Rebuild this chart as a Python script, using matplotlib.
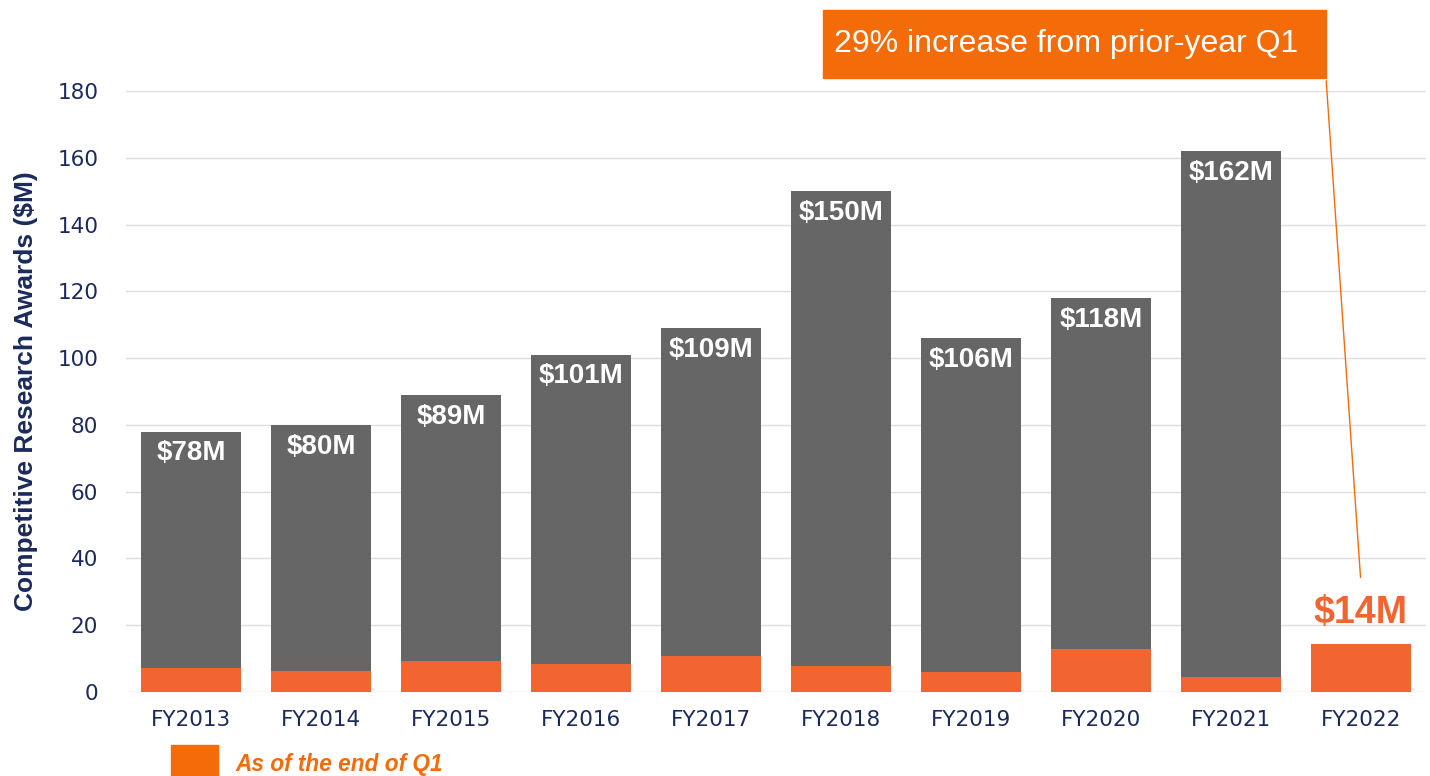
"""Competitive research awards by fiscal year, with Q1 share highlighted."""

import matplotlib
matplotlib.use('Agg')
import matplotlib.pyplot as plt
from matplotlib.patches import Rectangle
import numpy as np

# ---------------------------------------------------------------------------
# Data
# ---------------------------------------------------------------------------
YEARS = ['FY2013', 'FY2014', 'FY2015', 'FY2016', 'FY2017',
         'FY2018', 'FY2019', 'FY2020', 'FY2021', 'FY2022']
TOTALS = [78, 80, 89, 101, 109, 150, 106, 118, 162]      # full-year awards, $M
Q1_VALUES = [7.2, 6.3, 9.3, 8.4, 10.8, 7.8, 6.0, 12.9, 4.5, 14.4]
TOTAL_LABELS = ['$78M', '$80M', '$89M', '$101M', '$109M',
                '$150M', '$106M', '$118M', '$162M']
CURRENT_LABEL = '$14M'
CALLOUT = '29% increase from prior-year Q1'
LEGEND_TEXT = 'As of the end of Q1'

COLOR_GRAY = '#666666'
COLOR_Q1 = '#f26531'
COLOR_BOX = '#f46b0a'
COLOR_NAVY = '#1b2a5c'
ARIAL = ['Liberation Sans', 'DejaVu Sans']

fig = plt.figure(figsize=(14.3, 7.76), dpi=100)
ax = fig.add_axes([0.0881, 0.1082, 0.9089, 0.7745])

x = np.arange(len(YEARS))
width = 0.77
n_full = len(TOTALS)

# gray part sits on top of the Q1 part, reaching the full-year total
ax.bar(x[:n_full], np.array(TOTALS) - np.array(Q1_VALUES[:n_full]), width,
       bottom=Q1_VALUES[:n_full], color=COLOR_GRAY, zorder=2)
ax.bar(x, Q1_VALUES, width, color=COLOR_Q1, zorder=2)

for xi, total, label in zip(x, TOTALS, TOTAL_LABELS):
    ax.text(xi, total - 2.6, label, ha='center', va='top', color='white',
            fontsize=20, fontweight='bold', family=ARIAL, zorder=3)

ax.text(x[-1], Q1_VALUES[-1] + 3.8, CURRENT_LABEL, ha='center', va='bottom',
        color=COLOR_Q1, fontsize=27, fontweight='bold', family=ARIAL)

ax.set_xlim(-0.5, len(YEARS) - 0.5)
ax.set_ylim(0, 180)
ax.set_yticks(range(0, 181, 20))
ax.set_xticks(x)
ax.set_xticklabels(YEARS)
ax.tick_params(axis='both', length=0, labelsize=15.5, colors=COLOR_NAVY)
ax.tick_params(axis='y', pad=20)
ax.tick_params(axis='x', pad=13)
ax.grid(True, axis='y', color='#dedede', linewidth=1, zorder=0)
ax.set_axisbelow(True)
for spine in ax.spines.values():
    spine.set_visible(False)

ax.set_ylabel('Competitive Research Awards ($M)', fontsize=19, fontweight='bold',
              color=COLOR_NAVY, family=ARIAL, labelpad=14)

# callout box and leader line (figure coords)
box_left, box_bottom, box_w, box_h = 823 / 1430, 1 - 78 / 776, 503 / 1430, 68 / 776
fig.patches.append(Rectangle((box_left, box_bottom), box_w, box_h,
                             transform=fig.transFigure, color=COLOR_BOX, zorder=5))
fig.text(box_left + 0.008, box_bottom + box_h / 2, CALLOUT, color='white',
         fontsize=23, va='center', ha='left', family=ARIAL, zorder=6)
ax.annotate('', xy=(x[-1], 33.5), xycoords='data',
            xytext=(box_left + box_w, box_bottom), textcoords='figure fraction',
            arrowprops=dict(arrowstyle='-', color=COLOR_BOX, linewidth=1))

# legend swatch
fig.patches.append(Rectangle((171 / 1430, 0), 47 / 1430, 31 / 776,
                             transform=fig.transFigure, color=COLOR_BOX))
fig.text(235 / 1430, 11 / 776, LEGEND_TEXT, color=COLOR_BOX, fontsize=16.3,
         fontweight='bold', style='italic', family=ARIAL, va='center', ha='left')

fig.savefig('out.png', dpi=100)
